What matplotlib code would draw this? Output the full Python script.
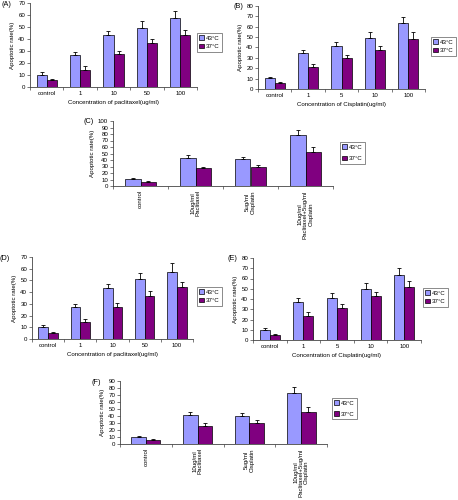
import matplotlib
matplotlib.use("Agg")
import matplotlib.pyplot as plt
import numpy as np
from matplotlib.patches import Patch

plt.rcParams['font.family'] = ['Liberation Sans', 'DejaVu Sans']

pac_cats = ['control', '1', '10', '50', '100']
cis_cats = ['control', '1', '5', '10', '100']
combo_cats = ['control', '10ug/ml\nPaclitaxel', '5ug/ml\nCisplatin',
              '10ug/ml\nPaclitaxel+5ug/ml\nCisplatin']
series_names = ['43°C', '37°C']

A_43 = [10.3, 27.0, 43.5, 49.5, 57.5]
A_43_err = [1.9, 2.2, 3.4, 5.6, 5.5]
A_37 = [5.5, 14.4, 27.8, 36.7, 43.6]
A_37_err = [1.2, 3.1, 1.9, 3.0, 4.2]

B_43 = [10.6, 34.4, 41.5, 49.5, 63.3]
B_43_err = [1.3, 3.2, 4.2, 5.5, 5.7]
B_37 = [5.5, 21.5, 29.6, 37.6, 48.5]
B_37_err = [1.2, 2.3, 3.2, 4.2, 6.2]

C_43 = [10.3, 43.3, 41.0, 78.8]
C_43_err = [2.1, 4.1, 4.0, 7.7]
C_37 = [5.7, 28.0, 29.0, 52.8]
C_37_err = [1.5, 1.6, 3.6, 6.8]

D_43 = [10.0, 27.3, 43.6, 51.3, 57.5]
D_43_err = [1.7, 2.3, 3.7, 5.4, 7.2]
D_37 = [4.8, 14.5, 27.6, 36.8, 44.2]
D_37_err = [0.9, 2.3, 3.2, 4.2, 4.8]

E_43 = [10.2, 37.3, 41.3, 49.5, 63.4]
E_43_err = [1.4, 4.0, 4.9, 5.9, 6.6]
E_37 = [5.3, 23.8, 31.0, 42.6, 51.8]
E_37_err = [0.7, 3.6, 3.7, 4.6, 6.0]

F_43 = [9.6, 41.2, 39.3, 72.9]
F_43_err = [1.9, 4.3, 4.7, 8.1]
F_37 = [5.75, 26.4, 29.7, 45.5]
F_37_err = [1.0, 4.3, 4.8, 6.8]

COL43 = '#9999FF'
COL37 = '#800080'
AXC = '#444444'
FS = 4.4

W, H = 458, 500
fig = plt.figure(figsize=(W / 100, H / 100), dpi=100)


def px_axes(x0, x1, ytop, ybot):
    return fig.add_axes([x0 / W, 1 - ybot / H, (x1 - x0) / W, (ybot - ytop) / H])


def panel(box, label, label_xy, cats, v43, e43, v37, e37, ymax, xlabel,
          legend_xy, bw=0.3, rotate=False, legend_gap=0.5):
    ax = px_axes(*box)
    x = np.arange(len(cats))
    ax.bar(x - bw / 2, v43, bw, color=COL43, edgecolor='black', linewidth=0.5, zorder=2)
    ax.bar(x + bw / 2, v37, bw, color=COL37, edgecolor='black', linewidth=0.5, zorder=2)
    ax.errorbar(x - bw / 2, v43, yerr=[np.zeros(len(v43)), e43], fmt='none',
                ecolor='black', elinewidth=0.6, capsize=1.6, capthick=0.6, zorder=3)
    ax.errorbar(x + bw / 2, v37, yerr=[np.zeros(len(v37)), e37], fmt='none',
                ecolor='black', elinewidth=0.6, capsize=1.6, capthick=0.6, zorder=3)
    ax.set_xlim(-0.5, len(cats) - 0.5)
    ax.set_ylim(0, ymax)
    ax.set_yticks(np.arange(0, ymax + 1, 10))
    for s in ['top', 'right']:
        ax.spines[s].set_visible(False)
    for s in ['left', 'bottom']:
        ax.spines[s].set_color(AXC)
        ax.spines[s].set_linewidth(0.6)
    ax.set_xticks(x)
    ax.set_xticks(np.arange(-0.5, len(cats), 1.0), minor=True)
    ax.tick_params(axis='x', which='major', length=0, pad=3, labelsize=FS)
    ax.tick_params(axis='x', which='minor', length=2, width=0.5, color=AXC)
    ax.tick_params(axis='y', length=2, width=0.5, color=AXC, pad=1.5, labelsize=FS)
    if rotate:
        ax.set_xticklabels(cats, rotation=90, ha='center', va='top',
                           multialignment='center', linespacing=1.1)
    else:
        ax.set_xticklabels(cats)
    ax.set_ylabel('Apoptotic rate(%)', fontsize=FS, labelpad=2)
    if xlabel:
        ax.set_xlabel(xlabel, fontsize=FS, labelpad=3)
    fig.text(label_xy[0] / W, 1 - label_xy[1] / H, label, fontsize=5.2,
             ha='left', va='top')
    handles = [Patch(facecolor=COL43, edgecolor='black', linewidth=0.5),
               Patch(facecolor=COL37, edgecolor='black', linewidth=0.5)]
    leg = fig.legend(handles, series_names, loc='upper left',
                     bbox_to_anchor=(legend_xy[0] / W, 1 - legend_xy[1] / H),
                     fontsize=FS, handlelength=0.75, handleheight=0.75,
                     handletextpad=0.3, borderpad=0.4, labelspacing=legend_gap,
                     fancybox=False, frameon=True, borderaxespad=0)
    leg.get_frame().set_edgecolor('#333333')
    leg.get_frame().set_linewidth(0.5)
    return ax


panel((30, 197, 3, 87), '(A)', (1, 1), pac_cats, A_43, A_43_err, A_37, A_37_err,
      70, 'Concentration of paclitaxel(ug/ml)', (197, 33))
panel((258, 425, 6, 89), '(B)', (234, 3), cis_cats, B_43, B_43_err, B_37, B_37_err,
      80, 'Concentration of Cisplatin(ug/ml)', (431, 37))
panel((113, 333, 121, 186), '(C)', (83, 118), combo_cats, C_43, C_43_err, C_37, C_37_err,
      100, None, (340, 142), bw=0.28, rotate=True, legend_gap=1.0)
panel((32, 193, 257, 339), '(D)', (0, 255), pac_cats, D_43, D_43_err, D_37, D_37_err,
      70, 'Concentration of paclitaxel(ug/ml)', (197, 287))
panel((253, 421, 258, 340), '(E)', (228, 255), cis_cats, E_43, E_43_err, E_37, E_37_err,
      80, 'Concentration of Cisplatin(ug/ml)', (423, 288))
panel((120, 327, 381, 444), '(F)', (91, 379), combo_cats, F_43, F_43_err, F_37, F_37_err,
      90, None, (332, 398), bw=0.28, rotate=True, legend_gap=0.9)

fig.savefig('out.png', dpi=100, facecolor='white')
